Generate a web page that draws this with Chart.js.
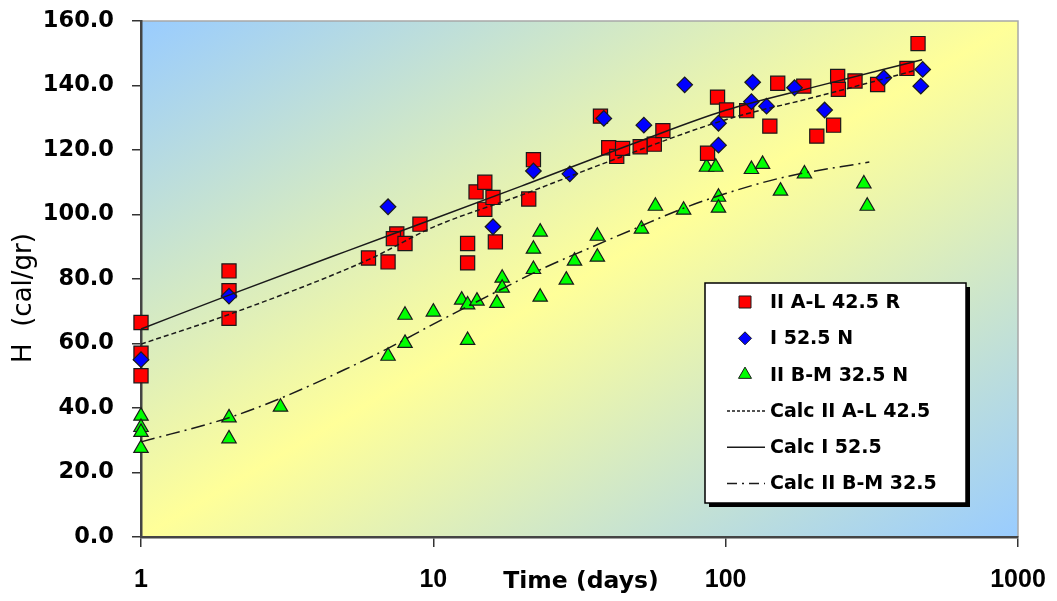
<!DOCTYPE html>
<html>
<head>
<meta charset="utf-8">
<title>Heat of hydration</title>
<script src="https://cdn.jsdelivr.net/npm/chart.js@4.4.1/dist/chart.umd.min.js"></script>
<style>
    html, body { margin: 0; padding: 0; background: #fff; }
    #wrap { width: 1057px; height: 601px; }
</style>
</head>
<body>
<div id="wrap"><canvas id="heatChart" width="1057" height="601"></canvas></div>
<script>
// Measured points: II A-L 42.5 R
const alDays = [1, 1, 1, 2, 2, 2, 6, 7, 7.5, 7.3, 8, 9, 13.1, 13.1, 14, 15, 15, 16, 16.3, 21.2, 22,
    37.3, 39.8, 42.4, 44.4, 51, 57, 61, 86.7, 93.8, 100.7, 118, 141.6, 150.7, 185, 205, 234, 241.6, 243, 277, 331, 417, 455];
const alHeat = [66.5, 57, 50, 82.5, 76.4, 67.8, 86.5, 85.3, 94, 92.5, 91, 97, 91, 85, 107, 110, 101.6, 105.3, 91.5, 104.8, 117,
    130.5, 120.7, 118, 120.5, 121, 121.8, 126, 119, 136.4, 132.4, 132.2, 127.4, 140.7, 139.8, 124.3, 127.7, 142.8, 138.8, 141.4, 140.3, 145.3, 153];

// I 52.5 N
const iDays = [1, 2, 7, 16, 22, 29.3, 38.3, 52.5, 72.4, 94.5, 94.5, 123.7, 122.5, 138, 172, 218, 347.6, 472, 465];
const iHeat = [55, 74.7, 102.4, 96.2, 113.5, 112.6, 129.8, 127.7, 140.2, 128.3, 121.5, 141, 135, 133.6, 139.3, 132.4, 142.4, 145, 139.8];

// II B-M 32.5 N
const bmDays = [1, 1, 1, 1, 2, 2, 3, 7, 8, 8, 10, 12.5, 13.1, 13.1, 14.1, 16.5, 17.2, 17.2, 22, 22, 23.2, 23.2,
    28.5, 30.4, 36.4, 36.4, 51.5, 57.5, 71.8, 86, 92.5, 94.5, 94.5, 122.5, 133.7, 154, 186, 297, 305];
const bmHeat = [37.5, 34, 32.5, 27.5, 37, 30.5, 40.3, 56.1, 60.1, 68.8, 69.8, 73.5, 72, 61, 73.2, 72.5, 80.3, 77.2, 83, 89.3, 94.6, 74.4,
    79.7, 85.6, 86.8, 93.3, 95.5, 102.6, 101.4, 114.7, 114.7, 105.4, 102, 114, 115.6, 107.3, 112.6, 109.5, 102.6];

// Calculated curves
const calcAlDays = [1, 2, 6, 10, 20, 40, 100, 200, 450];
const calcAlHeat = [59.8, 69, 86, 96.1, 106, 116.5, 129.4, 136.3, 144.8];
const calcIDays = [1, 2, 5, 10, 20, 50, 100, 200, 470];
const calcIHeat = [64.5, 75, 88.5, 98.6, 108.8, 122.5, 132.3, 139.5, 148];
const calcBmDays = [1, 2, 3, 5, 7, 10, 16, 24, 34, 50, 72, 100, 157, 310];
const calcBmHeat = [29.5, 37, 43, 52, 58.5, 66, 75.5, 83.5, 89.5, 96, 102, 106.5, 111.5, 116.3];

// Axes
const xTicks = [1, 10, 100, 1000];
const yMin = 0;
const yMax = 160;
const yStep = 20;
const xTitle = 'Time (days)';
const yTitle = 'H  (cal/gr)';

const toPoints = (xs, ys) => xs.map((x, i) => ({ x: x, y: ys[i] }));

// Blue - yellow - blue diagonal fill, light frame on top/right
const plotBackground = {
    id: 'plotBackground',
    beforeDraw(chart) {
        const { ctx, chartArea: a } = chart;
        ctx.save();
        ctx.translate(a.left, a.top);
        ctx.scale(a.right - a.left, a.bottom - a.top);
        const g = ctx.createLinearGradient(0, 0, 1, 1);
        g.addColorStop(0, '#99ccff');
        g.addColorStop(0.5, '#ffff99');
        g.addColorStop(1, '#99ccff');
        ctx.fillStyle = g;
        ctx.fillRect(0, 0, 1, 1);
        ctx.restore();

        ctx.save();
        ctx.strokeStyle = '#a8a8a8';
        ctx.lineWidth = 1.5;
        ctx.beginPath();
        ctx.moveTo(a.left, a.top);
        ctx.lineTo(a.right, a.top);
        ctx.lineTo(a.right, a.bottom);
        ctx.stroke();
        ctx.restore();
    }
};

// Axis titles (x title sits on the tick label row)
const axisTitles = {
    id: 'axisTitles',
    afterDraw(chart) {
        const ctx = chart.ctx;
        ctx.save();
        ctx.fillStyle = '#000';
        ctx.font = 'bold 23.5px "DejaVu Sans", sans-serif';
        ctx.textAlign = 'center';
        ctx.textBaseline = 'alphabetic';
        ctx.fillText(xTitle, 581, 588);

        ctx.translate(24, 298);
        ctx.rotate(-Math.PI / 2);
        ctx.font = '26px "DejaVu Sans", sans-serif';
        ctx.textBaseline = 'middle';
        ctx.fillText(yTitle, 0, 0);
        ctx.restore();
    }
};

function drawMarker(ctx, style, r, x, y, fill, stroke) {
    ctx.save();
    ctx.fillStyle = fill;
    ctx.strokeStyle = stroke;
    ctx.lineWidth = 1;
    if (Chart.helpers && Chart.helpers.drawPoint) {
        Chart.helpers.drawPoint(ctx, { pointStyle: style, radius: r, borderWidth: 1, rotation: 0 }, x, y);
    }
    ctx.restore();
}

// Boxed legend with drop shadow, inside the plot
const boxLegend = {
    id: 'boxLegend',
    afterDraw(chart) {
        const ctx = chart.ctx;
        const box = { x: 705, y: 283, w: 261, h: 220 };
        ctx.save();
        ctx.fillStyle = '#000';
        ctx.fillRect(box.x + 4, box.y + 4, box.w, box.h);
        ctx.fillStyle = '#fff';
        ctx.fillRect(box.x, box.y, box.w, box.h);
        ctx.strokeStyle = '#000';
        ctx.lineWidth = 1.5;
        ctx.strokeRect(box.x, box.y, box.w, box.h);

        ctx.font = 'bold 19px "DejaVu Sans", sans-serif';
        ctx.textBaseline = 'middle';
        ctx.textAlign = 'left';
        chart.data.datasets.forEach((ds, i) => {
            const y = 302 + i * 36.3;
            if (ds.showLine) {
                ctx.save();
                ctx.strokeStyle = ds.borderColor;
                ctx.lineWidth = 1.5;
                ctx.setLineDash(ds.legendDash || []);
                ctx.beginPath();
                ctx.moveTo(727, y);
                ctx.lineTo(765, y);
                ctx.stroke();
                ctx.restore();
            } else {
                drawMarker(ctx, ds.pointStyle, ds.legendRadius, 745, y, ds.backgroundColor, ds.borderColor);
            }
            ctx.fillStyle = '#000';
            ctx.fillText(ds.label, 770, y + 1);
        });
        ctx.restore();
    }
};

const markerSet = (label, xs, ys, style, radius, legendRadius, fill, order) => ({
    label: label,
    data: toPoints(xs, ys),
    pointStyle: style,
    pointRadius: radius,
    legendRadius: legendRadius,
    backgroundColor: fill,
    borderColor: '#1a1a1a',
    pointBorderWidth: 1.2,
    showLine: false,
    clip: false,
    order: order
});

const curveSet = (label, xs, ys, dash, legendDash) => ({
    label: label,
    data: toPoints(xs, ys),
    showLine: true,
    borderColor: '#1a1a1a',
    borderWidth: 1.5,
    borderDash: dash,
    legendDash: legendDash,
    pointRadius: 0,
    cubicInterpolationMode: 'monotone',
    clip: false,
    order: 0
});

const ctx = document.getElementById('heatChart').getContext('2d');
new Chart(ctx, {
    type: 'scatter',
    data: {
        datasets: [
            markerSet('II A-L 42.5 R', alDays, alHeat, 'rect', 10, 8.5, '#ff0000', 2),
            markerSet('I 52.5 N', iDays, iHeat, 'rectRot', 7.8, 6.5, '#0000ff', 1),
            markerSet('II B-M 32.5 N', bmDays, bmHeat, 'triangle', 8.3, 7.5, '#00ff00', 3),
            curveSet('Calc II A-L 42.5', calcAlDays, calcAlHeat, [5, 3], [3, 2]),
            curveSet('Calc I 52.5', calcIDays, calcIHeat, [], []),
            curveSet('Calc II B-M 32.5', calcBmDays, calcBmHeat, [14, 5, 2, 5], [10, 5, 2, 5])
        ]
    },
    options: {
        responsive: false,
        animation: false,
        layout: { padding: { top: 21, right: 39, left: 0, bottom: 0 } },
        plugins: {
            legend: { display: false },
            tooltip: { enabled: false }
        },
        scales: {
            x: {
                type: 'logarithmic',
                min: xTicks[0],
                max: xTicks[xTicks.length - 1],
                afterBuildTicks: (scale) => {
                    scale.ticks = xTicks.map(v => ({ value: v }));
                },
                afterFit: (scale) => {
                    scale.height = 64;
                    // label overflow is already covered by the layout padding
                    scale.paddingLeft = 0;
                    scale.paddingRight = 0;
                },
                ticks: {
                    callback: (v) => String(v),
                    autoSkip: false,
                    maxRotation: 0,
                    padding: 18,
                    color: '#000',
                    font: { family: '"Liberation Sans", Arial, sans-serif', size: 25, weight: 'bold' }
                },
                grid: { drawOnChartArea: false, drawTicks: true, tickLength: 10, color: '#333', lineWidth: 1.5 },
                border: { color: '#444', width: 2.5 }
            },
            y: {
                min: yMin,
                max: yMax,
                afterFit: (scale) => {
                    scale.width = 141;
                    scale.paddingTop = 0;
                    scale.paddingBottom = 0;
                },
                ticks: {
                    stepSize: yStep,
                    callback: (v) => v.toFixed(1),
                    padding: 18,
                    color: '#000',
                    font: { family: '"DejaVu Sans", sans-serif', size: 22.5, weight: 'bold' }
                },
                grid: { drawOnChartArea: false, drawTicks: true, tickLength: 9, color: '#333', lineWidth: 1.5 },
                border: { color: '#444', width: 2.5 }
            }
        }
    },
    plugins: [plotBackground, axisTitles, boxLegend]
});
</script>
</body>
</html>
